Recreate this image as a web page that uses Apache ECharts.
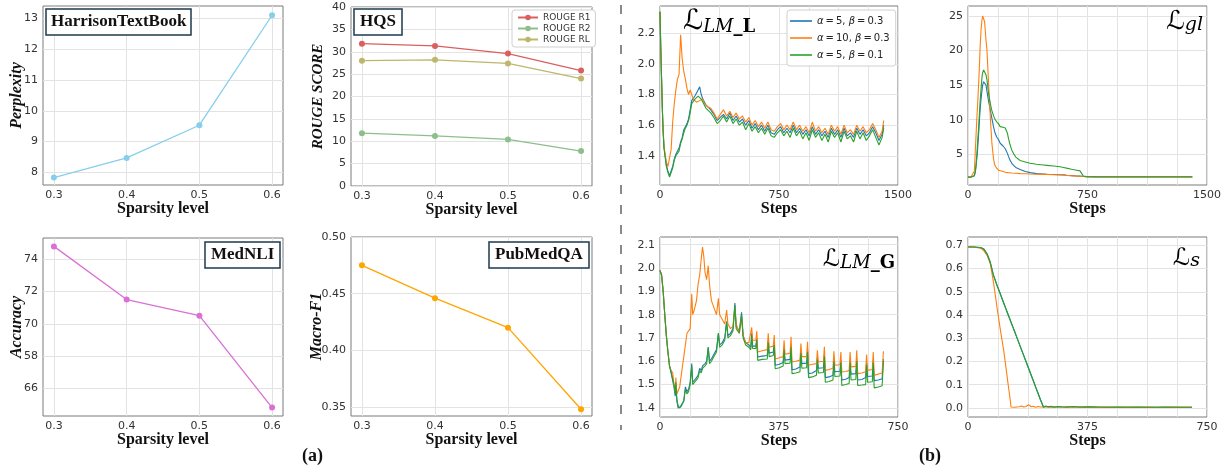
<!DOCTYPE html>
<html><head><meta charset="utf-8">
<script src="https://cdn.jsdelivr.net/npm/echarts@6/dist/echarts.min.js"></script>
<style>html,body{margin:0;padding:0;background:#fff}#c{width:1227px;height:466px}</style>
</head><body><div id="c"></div>
<script>
// ---------- (a) panels ----------
const SPARSITY = [0.3, 0.4, 0.5, 0.6];
const PERPLEXITY = [7.83, 8.47, 9.53, 13.1];
const ROUGE_R1 = [31.8, 31.3, 29.6, 25.8];
const ROUGE_R2 = [11.8, 11.2, 10.4, 7.8];
const ROUGE_RL = [28.0, 28.2, 27.4, 24.0];
const ACCURACY = [74.8, 71.5, 70.5, 64.8];
const MACRO_F1 = [0.475, 0.446, 0.420, 0.348];

const SPARSITY_TICKS = [0.3, 0.4, 0.5, 0.6];
const PPL_TICKS = [8, 9, 10, 11, 12, 13];
const ACC_TICKS = [66, 68, 70, 72, 74];
const ACC_TICK_LABELS = ['66', '58', '70', '72', '74'];
const F1_TICKS = [0.35, 0.40, 0.45, 0.50];

// ---------- (b) panels ----------
const SERIES_NAMES = ['α = 5, β = 0.3', 'α = 10, β = 0.3', 'α = 5, β = 0.1'];
const STEP_TICKS_LONG = [0, 750, 1500];
const STEP_TICKS_SHORT = [0, 375, 750];
const LML_TICKS = [1.4, 1.6, 1.8, 2.0, 2.2];
const GL_TICKS = [5, 10, 15, 20, 25];
const LMG_TICKS = [1.4, 1.5, 1.6, 1.7, 1.8, 1.9, 2.0, 2.1];
const LS_TICKS = [0.0, 0.1, 0.2, 0.3, 0.4, 0.5, 0.6, 0.7];

// L_LM_L
const P5_STEPS = [0,5,10,15,20,25,30,40,50,60,70,80,90,100,110,120,130,140,150,160,170,180,190,200,210,220,230,240,250,260,270,280,290,300,
320,340,360,380,400,420,440,460,480,500,520,540,560,580,600,620,640,660,680,700,720,740,760,780,800,820,840,860,880,900,920,940,960,980,1000,
1020,1040,1060,1080,1100,1120,1140,1160,1180,1200,1220,1240,1260,1280,1300,1320,1340,1360,1380,1400,1410];
const P5_BLUE = [2.34,2.10,1.90,1.70,1.56,1.46,1.42,1.34,1.30,1.27,1.28,1.33,1.38,1.41,1.40,1.45,1.49,1.52,1.57,1.59,1.61,1.64,1.70,1.76,1.75,1.79,1.78,1.83,1.85,1.80,1.77,1.76,1.73,1.72,
1.70,1.67,1.63,1.65,1.67,1.64,1.68,1.63,1.66,1.62,1.64,1.60,1.63,1.58,1.61,1.57,1.60,1.56,1.60,1.55,1.54,1.57,1.59,1.55,1.58,1.55,1.60,1.55,1.58,1.54,1.57,1.53,1.59,1.54,1.57,
1.53,1.56,1.52,1.58,1.54,1.57,1.52,1.58,1.53,1.55,1.52,1.58,1.54,1.57,1.53,1.55,1.59,1.55,1.50,1.54,1.60];
const P5_ORANGE = [2.34,2.10,1.90,1.70,1.56,1.47,1.42,1.36,1.33,1.33,1.44,1.62,1.74,1.83,1.90,1.93,2.19,2.03,1.95,1.90,1.84,1.80,1.83,1.80,1.77,1.78,1.75,1.74,1.76,1.75,1.77,1.74,1.74,1.72,
1.71,1.68,1.64,1.67,1.70,1.66,1.69,1.65,1.68,1.64,1.66,1.62,1.65,1.60,1.63,1.59,1.62,1.58,1.62,1.57,1.56,1.59,1.61,1.57,1.60,1.57,1.62,1.57,1.60,1.56,1.59,1.55,1.62,1.56,1.59,
1.55,1.58,1.54,1.60,1.56,1.59,1.54,1.60,1.55,1.57,1.54,1.60,1.56,1.59,1.55,1.57,1.61,1.57,1.52,1.56,1.63];
const P5_GREEN = [2.34,2.10,1.90,1.70,1.55,1.45,1.41,1.33,1.29,1.26,1.27,1.32,1.37,1.40,1.40,1.43,1.48,1.51,1.55,1.58,1.60,1.63,1.68,1.74,1.73,1.77,1.76,1.79,1.80,1.77,1.75,1.74,1.71,1.70,
1.68,1.65,1.61,1.63,1.66,1.62,1.66,1.61,1.64,1.60,1.62,1.57,1.61,1.56,1.59,1.55,1.58,1.54,1.58,1.53,1.52,1.55,1.57,1.53,1.56,1.52,1.58,1.53,1.56,1.51,1.55,1.50,1.57,1.52,1.55,
1.50,1.54,1.49,1.56,1.52,1.55,1.49,1.56,1.51,1.53,1.49,1.56,1.51,1.55,1.50,1.53,1.57,1.52,1.47,1.52,1.58];

// L_gl
const P6_STEPS = [0,20,40,46,50,56,60,67,73,77,82,88,92,98,104,113,119,129,140,144,150,160,165,171,180,192,202,220,234,240,248,254,261,275,286,300,327,360,390,430,473,494,536,578,600,619,650,682,703,714,724,745,800,900,1000,1100,1200,1300,1408];
const P6_BLUE = [1.7,1.72,1.9,2.5,3.2,4.5,5.6,8,10.4,11.8,13,14.3,15,15.5,15.7,15,14.1,12.7,11.4,10.9,10.2,9.0,8.5,8.0,7.5,7.1,6.6,6.2,5.8,5.6,5.1,4.7,4.3,3.7,3.4,3.1,2.8,2.5,2.35,2.2,2.15,2.12,2.08,2.04,2.02,1.97,1.92,1.87,1.84,1.82,1.8,1.76,1.73,1.72,1.72,1.72,1.72,1.72,1.72];
const P6_ORANGE = [1.7,1.75,2.6,5.6,7.5,10.4,12,15.3,18.5,21,23,24.5,25,24.6,24.2,21.5,20.1,15.3,10.4,8.8,6.6,4.4,3.7,3.3,3.0,2.7,2.6,2.5,2.4,2.38,2.35,2.34,2.33,2.3,2.28,2.25,2.2,2.18,2.15,2.12,2.1,2.1,2.05,2.02,2.0,1.95,1.9,1.85,1.82,1.8,1.78,1.75,1.72,1.72,1.72,1.72,1.72,1.72,1.72];
const P6_GREEN = [1.7,1.72,1.9,2.5,3.3,5.2,6.6,9,11.4,13,14.5,16.2,16.8,17.2,17.0,16.5,15.8,13.8,12.4,11.9,11.3,10.6,10.3,10.0,9.7,9.4,9.0,8.9,8.8,8.6,8.0,7.3,6.6,5.6,5.1,4.6,4.1,3.9,3.7,3.55,3.45,3.4,3.3,3.2,3.1,3.0,2.85,2.7,2.6,2.2,1.85,1.77,1.75,1.75,1.75,1.75,1.75,1.75,1.75];

// L_LM_G
const P7_STEPS = [0,5,10,15,20,25,30,35,40,44,48,50,53,57,62,66,70,75,80,85,90,95,
100,103,108,115,120,125,130,134,138,142,147,152,156,162,170,178,184,188,196,204,210,214,222,230,236,240,250,257,262,270,280,
286,289,292,302,305,308,322,338,341,344,357,360,363,376,388,391,394,410,413,416,428,441,444,447,462,465,468,480,
493,496,499,515,518,521,533,545,548,551,567,570,573,585,596,599,602,617,620,623,636,648,651,654,669,672,675,688,700,704];
const P7_BLUE = [1.99,1.97,1.90,1.80,1.71,1.64,1.58,1.55,1.545,1.49,1.45,1.50,1.43,1.40,1.395,1.405,1.41,1.43,1.49,1.47,1.48,1.51,
1.59,1.51,1.51,1.53,1.54,1.57,1.56,1.58,1.58,1.59,1.60,1.66,1.60,1.61,1.63,1.65,1.72,1.67,1.68,1.70,1.77,1.71,1.72,1.74,1.85,1.75,1.73,1.81,1.71,1.68,1.67,
1.66,1.72,1.665,1.665,1.70,1.618,1.622, 1.625,1.69,1.635,1.64,1.68,1.583,1.587, 1.595,1.66,1.605,1.608,1.67,1.564,1.567, 1.575,1.645,1.59,1.592,1.65,1.547,1.55,
1.56,1.615,1.57,1.572,1.63,1.53,1.533, 1.54,1.61,1.555,1.557,1.605,1.52,1.523, 1.53,1.605,1.545,1.547,1.61,1.52,1.522, 1.53,1.595,1.535,1.537,1.605,1.517,1.52, 1.525,1.61];
const P7_ORANGE = [1.99,1.97,1.90,1.80,1.71,1.64,1.58,1.56,1.55,1.50,1.47,1.53,1.46,1.46,1.49,1.53,1.57,1.62,1.67,1.72,1.72,1.74,
1.89,1.80,1.82,1.86,1.93,1.97,2.04,2.09,2.05,1.98,1.95,2.01,1.93,1.86,1.83,1.80,1.87,1.80,1.78,1.76,1.82,1.76,1.74,1.75,1.83,1.76,1.72,1.79,1.71,1.68,1.68,
1.68,1.745,1.69,1.69,1.73,1.64,1.645, 1.65,1.72,1.66,1.665,1.713,1.61,1.615, 1.62,1.69,1.63,1.635,1.705,1.597,1.60, 1.605,1.676,1.62,1.62,1.684,1.583,1.587,
1.59,1.647,1.597,1.60,1.662,1.561,1.565, 1.57,1.643,1.583,1.585,1.64,1.554,1.556, 1.56,1.64,1.576,1.578,1.647,1.547,1.55, 1.555,1.629,1.561,1.565,1.64,1.54,1.545, 1.55,1.643];
const P7_GREEN = [1.99,1.97,1.90,1.80,1.71,1.64,1.58,1.555,1.55,1.50,1.46,1.51,1.44,1.41,1.40,1.41,1.41,1.43,1.48,1.46,1.47,1.50,
1.58,1.50,1.50,1.52,1.53,1.56,1.55,1.57,1.57,1.58,1.59,1.66,1.59,1.60,1.62,1.64,1.72,1.66,1.67,1.69,1.77,1.70,1.71,1.73,1.84,1.74,1.72,1.80,1.70,1.67,1.66,
1.65,1.71,1.655,1.655,1.69,1.604,1.608, 1.61,1.68,1.62,1.625,1.67,1.568,1.572, 1.58,1.65,1.59,1.592,1.66,1.547,1.55, 1.555,1.635,1.57,1.572,1.64,1.53,1.533,
1.54,1.605,1.55,1.552,1.62,1.51,1.513, 1.52,1.60,1.535,1.537,1.595,1.496,1.50, 1.505,1.595,1.52,1.522,1.60,1.496,1.498, 1.50,1.585,1.51,1.512,1.595,1.486,1.49, 1.495,1.60];

// L_s
const P8_STEPS = [0,20,40,50,60,70,80,91,100,112,120,127,132,135,140,146,152,160,168,175,182,190,198,205,212,220,228,237,244,252,260,270,282,295,310,330,350,380,410,440,470,500,530,560,590,620,650,680,703];
const P8_BLUE = [0.694,0.693,0.691,0.684,0.664,0.627,0.572,0.529,0.497,0.453,0.424,0.399,0.381,0.37,0.352,0.331,0.309,0.28,0.251,0.226,0.201,0.172,0.143,0.118,0.092,0.063,0.034,0.004,0.006,0.004,0.005,0.003,0.005,0.004,0.003,0.005,0.003,0.004,0.003,0.003,0.003,0.003,0.003,0.003,0.003,0.003,0.003,0.003,0.003];
const P8_ORANGE = [0.693,0.692,0.688,0.676,0.657,0.621,0.54,0.434,0.35,0.248,0.165,0.09,0.04,0.004,0.008,0.003,0.01,0.005,0.008,0.004,0.006,0.014,0.005,0.007,0.003,0.006,0.004,0.004,0.006,0.003,0.005,0.003,0.006,0.004,0.005,0.003,0.004,0.005,0.003,0.004,0.003,0.004,0.003,0.004,0.003,0.003,0.004,0.003,0.003];
const P8_GREEN = [0.693,0.693,0.69,0.683,0.662,0.625,0.57,0.527,0.495,0.451,0.422,0.397,0.379,0.368,0.35,0.329,0.307,0.278,0.249,0.224,0.199,0.17,0.141,0.116,0.09,0.061,0.032,0.003,0.008,0.005,0.007,0.004,0.006,0.005,0.004,0.006,0.004,0.005,0.004,0.003,0.004,0.003,0.004,0.003,0.003,0.004,0.003,0.003,0.003];

// ---------- styling ----------
const C_BLUE = '#1f77b4', C_ORANGE = '#ff7f0e', C_GREEN = '#2ca02c';
const zip = (xs, ys) => xs.map((x, i) => [x, ys[i]]);

const grids = [
  {left:43, top:6, width:240, height:179},
  {left:351, top:7, width:241, height:179},
  {left:43, top:238, width:240, height:178},
  {left:351, top:237, width:241, height:179},
  {left:660, top:6, width:238, height:179},
  {left:968, top:6, width:239, height:179},
  {left:660, top:237, width:238, height:180},
  {left:968, top:237, width:239, height:180}
].map(g => Object.assign({show:true, borderColor:'#7a7a7a', borderWidth:1, backgroundColor:'transparent', containLabel:false}, g));

function ax(o) {
  const a = {
    type:'value', gridIndex:o.g, min:o.min, max:o.max,
    axisLine:{show:false}, axisTick:{show:false},
    axisLabel:{fontFamily:'DejaVu Sans', fontSize:11, color:'#333', margin:5, formatter:v => String(v)},
    splitLine:{show:true, lineStyle:{color:'#e3e3e3', width:1}},
    name:o.name || '', nameLocation:'middle', nameGap:o.gap || 16, nameMoveOverlap:false,
    nameTextStyle:{fontFamily:'Liberation Serif', fontWeight:'bold', fontStyle:o.italic ? 'italic' : 'normal', fontSize:o.fs || 16, color:'#111'}
  };
  if (o.rot) a.nameRotate = 90;
  if (o.ticks) { a.axisTick.customValues = o.ticks; a.axisLabel.customValues = o.ticks; }
  if (o.labels) a.axisLabel.customValues = o.labels;
  if (o.interval) a.interval = o.interval;
  if (o.fmt) a.axisLabel.formatter = o.fmt;
  return a;
}
const f1 = v => v.toFixed(1), f2 = v => v.toFixed(2);

const xAxes = [
  ax({g:0, min:0.285, max:0.615, ticks:SPARSITY_TICKS, fmt:f1, name:'Sparsity level', gap:16}),
  ax({g:1, min:0.285, max:0.615, ticks:SPARSITY_TICKS, fmt:f1, name:'Sparsity level', gap:16}),
  ax({g:2, min:0.285, max:0.615, ticks:SPARSITY_TICKS, fmt:f1, name:'Sparsity level', gap:16}),
  ax({g:3, min:0.285, max:0.615, ticks:SPARSITY_TICKS, fmt:f1, name:'Sparsity level', gap:16}),
  ax({g:4, min:0, max:1500, interval:187.5, labels:STEP_TICKS_LONG, name:'Steps', gap:16}),
  ax({g:5, min:0, max:1500, interval:187.5, labels:STEP_TICKS_LONG, name:'Steps', gap:16}),
  ax({g:6, min:0, max:750, interval:93.75, labels:STEP_TICKS_SHORT, name:'Steps', gap:16}),
  ax({g:7, min:0, max:750, interval:93.75, labels:STEP_TICKS_SHORT, name:'Steps', gap:16})
];
const yAxes = [
  ax({g:0, min:7.59, max:13.4, ticks:PPL_TICKS, name:'Perplexity', italic:true, rot:true, gap:18}),
  ax({g:1, min:0, max:40, interval:5, name:'ROUGE SCORE', italic:true, rot:true, gap:25, fs:15}),
  ax({g:2, min:64.28, max:75.32, ticks:ACC_TICKS, fmt:v => ACC_TICK_LABELS[ACC_TICKS.indexOf(v)], name:'Accuracy', italic:true, rot:true, gap:18}),
  ax({g:3, min:0.342, max:0.50, ticks:F1_TICKS, fmt:f2, name:'Macro-F1', italic:true, rot:true, gap:26}),
  ax({g:4, min:1.209, max:2.378, ticks:LML_TICKS, fmt:f1}),
  ax({g:5, min:0.56, max:26.45, ticks:GL_TICKS}),
  ax({g:6, min:1.361, max:2.133, ticks:LMG_TICKS, fmt:f1}),
  ax({g:7, min:-0.039, max:0.736, ticks:LS_TICKS, fmt:f1})
];

function dotLine(name, i, xs, ys, color) {
  return {type:'line', name, xAxisIndex:i, yAxisIndex:i, data:zip(xs, ys), symbol:'circle', symbolSize:6,
    lineStyle:{color, width:1.3}, itemStyle:{color}, z:3};
}
function lossLine(name, i, xs, ys, color) {
  return {type:'line', name, xAxisIndex:i, yAxisIndex:i, data:zip(xs, ys), symbol:'none', showSymbol:false,
    lineStyle:{color, width:1.1}, itemStyle:{color}, z:3};
}

const series = [
  dotLine('Perplexity', 0, SPARSITY, PERPLEXITY, '#87ceeb'),
  dotLine('ROUGE R1', 1, SPARSITY, ROUGE_R1, '#d9605e'),
  dotLine('ROUGE R2', 1, SPARSITY, ROUGE_R2, '#8dbf8b'),
  dotLine('ROUGE RL', 1, SPARSITY, ROUGE_RL, '#bdb76b'),
  dotLine('Accuracy', 2, SPARSITY, ACCURACY, '#da70d6'),
  dotLine('Macro-F1', 3, SPARSITY, MACRO_F1, '#ffa500'),
  lossLine(SERIES_NAMES[0], 4, P5_STEPS, P5_BLUE, C_BLUE),
  lossLine(SERIES_NAMES[1], 4, P5_STEPS, P5_ORANGE, C_ORANGE),
  lossLine(SERIES_NAMES[2], 4, P5_STEPS, P5_GREEN, C_GREEN),
  lossLine(SERIES_NAMES[0], 5, P6_STEPS, P6_BLUE, C_BLUE),
  lossLine(SERIES_NAMES[1], 5, P6_STEPS, P6_ORANGE, C_ORANGE),
  lossLine(SERIES_NAMES[2], 5, P6_STEPS, P6_GREEN, C_GREEN),
  lossLine(SERIES_NAMES[0], 6, P7_STEPS, P7_BLUE, C_BLUE),
  lossLine(SERIES_NAMES[1], 6, P7_STEPS, P7_ORANGE, C_ORANGE),
  lossLine(SERIES_NAMES[2], 6, P7_STEPS, P7_GREEN, C_GREEN),
  lossLine(SERIES_NAMES[0], 7, P8_STEPS, P8_BLUE, C_BLUE),
  lossLine(SERIES_NAMES[1], 7, P8_STEPS, P8_ORANGE, C_ORANGE),
  lossLine(SERIES_NAMES[2], 7, P8_STEPS, P8_GREEN, C_GREEN)
];

function boxTitle(text, left, top, padH) {
  return {text, left, top, padding:[3, padH, 3, padH], borderColor:'#1e3a4c', borderWidth:1.5,
    backgroundColor:'#fff',
    textStyle:{fontFamily:'Liberation Serif', fontWeight:'bold', fontSize:17, color:'#111', lineHeight:20}};
}

function mathLabel(left, top, big, sub, parts) {
  const rich = {
    L:{fontFamily:'DejaVu Sans', fontSize:big, color:'#111', lineHeight:big + 2, verticalAlign:'bottom'},
    i:{fontFamily:'DejaVu Serif', fontStyle:'italic', fontSize:sub, color:'#111', verticalAlign:'bottom', lineHeight:sub},
    b:{fontFamily:'DejaVu Serif', fontWeight:'bold', fontSize:sub, color:'#111', verticalAlign:'bottom', lineHeight:sub}
  };
  return {type:'text', left, top, z:10, style:{text:'{L|ℒ}' + parts, rich}};
}

const option = {
  animation:false,
  backgroundColor:'#fff',
  grid:grids,
  xAxis:xAxes,
  yAxis:yAxes,
  series,
  title:[
    boxTitle('HarrisonTextBook', 46, 9, 5),
    boxTitle('HQS', 354, 9, 6),
    boxTitle('MedNLI', 205, 242, 6),
    boxTitle('PubMedQA', 489, 242, 6)
  ],
  legend:[
    {data:['ROUGE R1', 'ROUGE R2', 'ROUGE RL'], orient:'vertical', left:512, top:10,
      itemWidth:20, itemHeight:7, itemGap:2, padding:[3, 5, 3, 5],
      borderColor:'#d0d0d0', borderWidth:1, borderRadius:3, backgroundColor:'#fff',
      selectedMode:false,
      textStyle:{fontFamily:'DejaVu Sans', fontSize:9, color:'#333'}},
    {data:SERIES_NAMES, orient:'vertical', left:787, top:10, icon:'rect',
      itemWidth:22, itemHeight:1.6, itemGap:5, padding:[5, 6, 5, 3],
      borderColor:'#d0d0d0', borderWidth:1, borderRadius:3, backgroundColor:'#fff',
      selectedMode:false,
      formatter:n => n.split(' = ').join('\u2009=\u2009').replace('α', '{g|α}').replace('β', '{g|β}'),
      textStyle:{fontFamily:'DejaVu Sans', fontSize:10, color:'#222', lineHeight:12,
        rich:{g:{fontFamily:'DejaVu Sans', fontStyle:'italic', fontSize:10, color:'#222'}}}}
  ],
  graphic:[
    {type:'line', shape:{x1:621, y1:5, x2:621, y2:430}, style:{stroke:'#8a8a8a', lineWidth:2, lineDash:[9, 11]}},
    {type:'text', left:302, top:447, style:{text:'(a)', font:'bold 18px "Liberation Serif"', fill:'#111'}},
    {type:'text', left:919, top:447, style:{text:'(b)', font:'bold 18px "Liberation Serif"', fill:'#111'}},
    mathLabel(683, 8, 28, 18, '{i|LM}{b|_L}'),
    mathLabel(1166, 9, 26, 19, '{i|gl}'),
    mathLabel(823, 248, 24, 18, '{i|LM}{b|_G}'),
    mathLabel(1173, 247, 24, 19, '{i|s}')
  ]
};

const chart = echarts.init(document.getElementById('c'), null, {renderer:'canvas'});
chart.setOption(option);
</script>
</body></html>
